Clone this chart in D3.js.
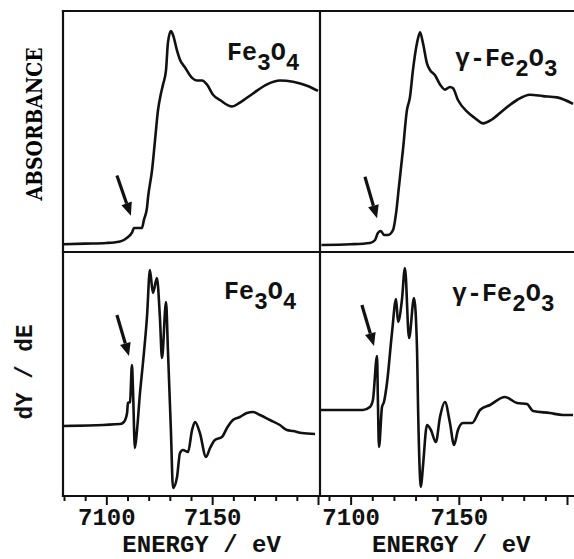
<!DOCTYPE html>
<html lang="en">
<head>
    <meta charset="UTF-8">
    <title>Fe K-edge XANES</title>
    <script src="https://cdn.jsdelivr.net/npm/d3@7"></script>
    <style>
        body{ margin: 0; background: #fff; }
        svg{ display: block; }
        .curve{ fill: none; stroke: #111; stroke-width: 2.6; stroke-linejoin: round; }
        .frame{ stroke: #111; stroke-width: 2.2; stroke-linecap: square; }
        .mono{ font-family: "Liberation Mono", monospace; font-weight: bold; fill: #111; }
        .tick line{ stroke: #111; stroke-width: 2; }
    </style>
</head>
<body>
<svg id="main-svg" width="574" height="559"></svg>

<script>
    // energy (eV), normalized absorbance
    const fe3o4Abs = [
        [7079.5,-0.01],[7090,-0.005],[7100,0.0],[7106,0.01],[7108.5,0.025],[7109.8,0.04],
        [7112.1,0.08],[7113.1,0.115],[7114.5,0.115],[7116.8,0.115],[7117.8,0.18],[7119.2,0.27],
        [7119.7,0.35],[7121.6,0.56],[7123.0,0.79],[7124.4,1.02],[7125.8,1.15],[7126.8,1.22],
        [7128.2,1.33],[7129.1,1.54],[7130.5,1.63],[7131.5,1.6],[7133.4,1.48],[7134.8,1.41],
        [7137.2,1.35],[7140.5,1.27],[7142.8,1.25],[7145.2,1.25],[7147.5,1.22],[7150.4,1.14],
        [7153.7,1.1],[7159.4,1.05],[7163.1,1.08],[7169.3,1.15],[7175.9,1.22],[7182,1.25],
        [7188.2,1.24],[7194.8,1.21],[7200,1.17]
    ];
    const gammaAbs = [
        [7086.5,-0.015],[7100,-0.01],[7108.9,0.0],[7111.3,0.023],[7112.6,0.077],[7114.0,0.092],
        [7115.4,0.062],[7117.3,0.062],[7119.6,0.10],[7121.0,0.23],[7122.3,0.43],[7124.2,0.72],
        [7126.0,1.02],[7127.4,1.12],[7128.8,1.33],[7130.7,1.54],[7132.1,1.62],[7133.4,1.54],
        [7135.3,1.38],[7136.7,1.33],[7139.0,1.29],[7141.3,1.22],[7143.6,1.18],[7145.9,1.20],
        [7147.3,1.19],[7149.6,1.10],[7153.8,1.01],[7157.5,0.96],[7161.2,0.92],[7165.3,0.95],
        [7170.4,1.02],[7176.9,1.10],[7182.9,1.14],[7188.9,1.13],[7195.4,1.12],[7202.8,1.07]
    ];
    // energy (eV), first derivative (arb. units)
    const fe3o4Deriv = [
        [7079.5,-0.01],[7106.5,0.01],[7108.3,0.03],[7109.8,0.12],[7110.2,0.22],[7111.2,0.23],
        [7112.1,0.60],[7112.6,0.35],[7113.5,-0.23],[7114.5,-0.05],[7115.9,0.32],[7117.3,0.62],
        [7119.2,1.08],[7120.6,1.55],[7122.0,1.32],[7123.9,1.47],[7125.3,1.08],[7126.3,0.67],
        [7128.2,1.23],[7129.1,0.75],[7130.5,-0.05],[7131.5,-0.63],[7133.4,-0.52],[7134.8,-0.28],
        [7136.2,-0.25],[7138.6,-0.27],[7140.5,-0.05],[7141.9,0.03],[7144.2,-0.08],[7147.1,-0.32],
        [7149.0,-0.23],[7151.3,-0.15],[7154.6,-0.12],[7157.0,-0.03],[7159.8,0.05],[7163.1,0.08],
        [7166.4,0.12],[7169.3,0.13],[7172.6,0.10],[7177.3,0.05],[7182.0,0.0],[7185.3,-0.05],
        [7188.2,-0.06],[7192.4,-0.08],[7198.6,-0.09]
    ];
    const gammaDeriv = [
        [7085.8,0.15],[7105.7,0.15],[7108.9,0.18],[7110.3,0.25],[7112.2,0.69],[7112.6,0.25],
        [7113.1,-0.22],[7114.5,0.18],[7115.4,0.23],[7116.8,0.42],[7119.1,0.92],[7121.0,1.26],
        [7121.9,1.03],[7123.7,1.25],[7125.1,1.57],[7127.0,0.87],[7129.3,1.27],[7130.7,0.75],
        [7131.1,0.25],[7132.5,-0.62],[7133.4,-0.42],[7135.3,0.0],[7137.1,-0.05],[7139.4,-0.17],
        [7141.3,0.08],[7143.6,0.23],[7145.9,0.02],[7147.8,-0.20],[7149.6,-0.05],[7151.9,0.02],
        [7156.1,0.02],[7159.8,0.15],[7164.4,0.20],[7171.3,0.28],[7176.9,0.22],[7181.5,0.21],
        [7184.3,0.14],[7192.1,0.12],[7198.1,0.10],[7202.8,0.10]
    ];

    // arrows: [tailE, tailY, tipE, tipY]
    const arrowFe3o4Abs = [7105.0, 0.52, 7111.6, 0.21];
    const arrowGammaAbs = [7106.6, 0.51, 7112.2, 0.19];
    const arrowFe3o4Der = [7105.0, 1.10, 7110.7, 0.69];
    const arrowGammaDer = [7105.2, 1.20, 7110.8, 0.79];

    const leftTicks = [7080,7090,7100,7110,7120,7130,7140,7150,7160,7170,7180,7190,7200];
    const rightTicks = [7090,7100,7110,7120,7130,7140,7150,7160,7170,7180,7190,7200];
    const majorTicks = [7100,7150,7200];
    const labeledTicks = [7100,7150];

    const svg = d3.select('#main-svg');

    const fLeft = 63, fMid = 320, fRight = 590, fTop = 11, fSplit = 252, fBottom = 496;

    const xL = d3.scaleLinear().domain([7080, 7200]).range([64, 318]);
    const xR = d3.scaleLinear().domain([7090, 7200]).range([329, 567]);
    const yTop = d3.scaleLinear().domain([0, 1]).range([243, 113]);
    const yBot = d3.scaleLinear().domain([0, 1]).range([425, 325]);

    // clip paths for the four panels
    const defs = svg.append('defs');
    const panels = [
        {id:'clipTL', x:fLeft, y:fTop, w:fMid-fLeft, h:fSplit-fTop},
        {id:'clipTR', x:fMid, y:fTop, w:fRight-fMid, h:fSplit-fTop},
        {id:'clipBL', x:fLeft, y:fSplit, w:fMid-fLeft, h:fBottom-fSplit},
        {id:'clipBR', x:fMid, y:fSplit, w:fRight-fMid, h:fBottom-fSplit}
    ];
    panels.forEach(p => {
        defs.append('clipPath').attr('id', p.id)
            .append('rect').attr('x', p.x).attr('y', p.y).attr('width', p.w).attr('height', p.h);
    });

    let drawCurve = (data, x, y, clip) => {
        let line = d3.line()
            .x(d => x(d[0]))
            .y(d => y(d[1]))
            .curve(d3.curveMonotoneX);
        svg.append('path')
            .attr('class', 'curve')
            .attr('clip-path', 'url(#' + clip + ')')
            .attr('d', line(data));
    };

    drawCurve(fe3o4Abs, xL, yTop, 'clipTL');
    drawCurve(gammaAbs, xR, yTop, 'clipTR');
    drawCurve(fe3o4Deriv, xL, yBot, 'clipBL');
    drawCurve(gammaDeriv, xR, yBot, 'clipBR');

    // frame lines
    const frameLines = [
        [fLeft, fTop, fRight, fTop],
        [fLeft, fTop, fLeft, fBottom],
        [fMid, fTop, fMid, fBottom],
        [fLeft, fSplit, fRight, fSplit],
        [fLeft, fBottom, fRight, fBottom]
    ];
    svg.selectAll('.frame')
        .data(frameLines)
        .enter()
        .append('line')
        .attr('class', 'frame')
        .attr('x1', d => d[0]).attr('y1', d => d[1])
        .attr('x2', d => d[2]).attr('y2', d => d[3]);

    // arrows
    let drawArrow = (a, x, y) => {
        let x0 = x(a[0]), y0 = y(a[1]), x1 = x(a[2]), y1 = y(a[3]);
        let ang = Math.atan2(y1 - y0, x1 - x0);
        let len = 13, half = 5.5;
        let bx = x1 - len * Math.cos(ang), by = y1 - len * Math.sin(ang);
        svg.append('line')
            .attr('x1', x0).attr('y1', y0).attr('x2', bx).attr('y2', by)
            .style('stroke', '#111').style('stroke-width', 3.2);
        let px = -Math.sin(ang) * half, py = Math.cos(ang) * half;
        svg.append('path')
            .attr('d', `M${x1},${y1}L${bx + px},${by + py}L${bx - px},${by - py}Z`)
            .style('fill', '#111');
    };
    drawArrow(arrowFe3o4Abs, xL, yTop);
    drawArrow(arrowGammaAbs, xR, yTop);
    drawArrow(arrowFe3o4Der, xL, yBot);
    drawArrow(arrowGammaDer, xR, yBot);

    // energy axes
    let drawAxis = (x, ticks) => {
        svg.append('g')
            .attr('transform', `translate(0,${fBottom})`)
            .call(d3.axisBottom(x).tickValues(ticks.filter(t => !majorTicks.includes(t)))
                .tickSize(5).tickSizeOuter(0).tickFormat(''))
            .call(g => g.select('.domain').remove());
        svg.append('g')
            .attr('transform', `translate(0,${fBottom})`)
            .call(d3.axisBottom(x).tickValues(ticks.filter(t => majorTicks.includes(t)))
                .tickSize(9).tickSizeOuter(0).tickPadding(3)
                .tickFormat(d => labeledTicks.includes(d) ? d : ''))
            .call(g => g.select('.domain').remove())
            .call(g => g.selectAll('text')
                .attr('class', 'mono')
                .style('font-size', '24px'));
    };
    drawAxis(xL, leftTicks);
    drawAxis(xR, rightTicks);

    // axis titles
    svg.append('text')
        .attr('class', 'mono')
        .attr('x', xL(7145)).attr('y', 552)
        .attr('text-anchor', 'middle')
        .style('font-size', '24px')
        .text('ENERGY / eV');
    svg.append('text')
        .attr('class', 'mono')
        .attr('x', xR(7146.5)).attr('y', 552)
        .attr('text-anchor', 'middle')
        .style('font-size', '24px')
        .text('ENERGY / eV');

    svg.append('text')
        .attr('transform', 'translate(42,124) rotate(-90)')
        .attr('text-anchor', 'middle')
        .attr('textLength', 153)
        .attr('lengthAdjust', 'spacingAndGlyphs')
        .style('font-family', '"DejaVu Serif", serif')
        .style('font-weight', 'bold')
        .style('font-size', '23px')
        .text('ABSORBANCE');

    svg.append('text')
        .attr('class', 'mono')
        .attr('transform', 'translate(32,372) rotate(-90)')
        .attr('text-anchor', 'middle')
        .attr('textLength', 95)
        .attr('lengthAdjust', 'spacingAndGlyphs')
        .style('font-size', '24px')
        .text('dY / dE');

    // compound labels: prefix + Fe + n1 + O + n2
    let compound = (x, y, prefix, n1, n2) => {
        let t = svg.append('text')
            .attr('class', 'mono')
            .attr('x', x).attr('y', y)
            .style('font-size', '25px');
        t.append('tspan').text(prefix + 'Fe');
        t.append('tspan').attr('dy', 10).style('font-size', '23px').text(n1);
        t.append('tspan').attr('dy', -10).text('O');
        t.append('tspan').attr('dy', 10).style('font-size', '23px').text(n2);
    };
    compound(227, 60, '', '3', '4');
    compound(455, 66, 'γ-', '2', '3');
    compound(224, 299, '', '3', '4');
    compound(452, 301, 'γ-', '2', '3');
</script>
</body>
</html>
